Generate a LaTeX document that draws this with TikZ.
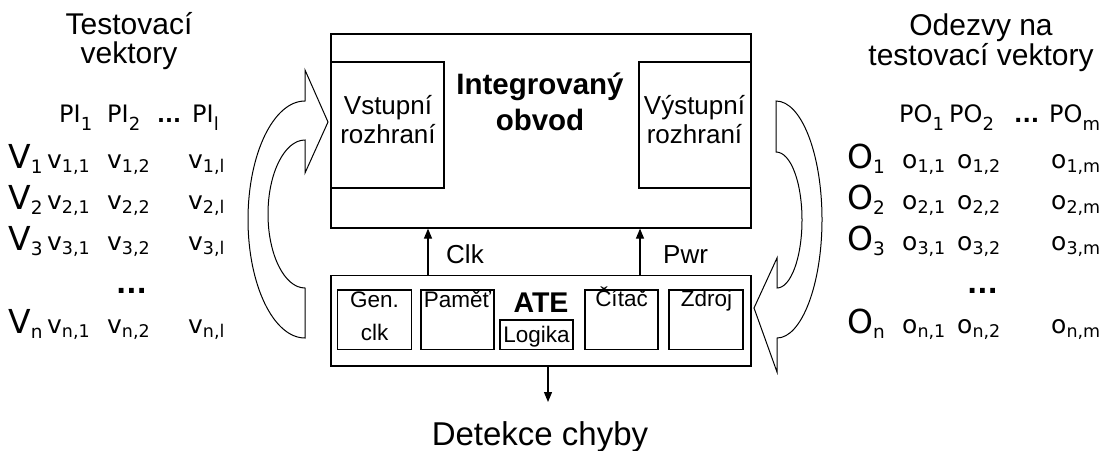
\documentclass[tikz,border=0pt]{standalone}
\usepackage{fontspec}
\setmainfont{Liberation Sans}
\newfontfamily\tabfont{DejaVu Sans}
\usetikzlibrary{arrows.meta}
\newcommand\fsz[1]{\fontsize{#1}{#1}\selectfont}
\newcommand\rowlab[2]{{\fsz{33}#1}\raisebox{-5pt}{\fsz{18.5}#2}}
\newcommand\cellv[2]{{\fsz{25}#1}\raisebox{-4pt}{\fsz{17.5}#2}}
\newcommand\hdr[2]{{\fsz{24}#1}\raisebox{-8pt}{\fsz{18}#2}}
\begin{document}
\begin{tikzpicture}[x=1pt,y=-1pt,
  blk/.style={draw,line width=1.2pt,inner sep=0pt},
  txt/.style={inner sep=0pt,anchor=base},
  tab/.style={inner sep=0pt,anchor=base west,font=\tabfont},
  arr/.style={line width=1.2pt,-{Triangle[length=10pt,width=8pt]}},
  curv/.style={line width=1pt,line join=miter}]
\useasboundingbox (0,0) rectangle (1113,450);

% main blocks
\node[blk,minimum width=420pt,minimum height=194pt] (ic) at (541,131) {};
\node[blk,minimum width=113pt,minimum height=126pt] (vin) at (387.5,125) {};
\node[blk,minimum width=112pt,minimum height=126pt] (vout) at (695,125) {};
\node[blk,minimum width=420pt,minimum height=90.5pt] (ate) at (541,320.75) {};
\node[blk,minimum width=74pt,minimum height=59.5pt] (gen) at (374.5,319.75) {};
\node[blk,minimum width=73pt,minimum height=59.5pt] (pam) at (457.5,319.75) {};
\node[blk,minimum width=73pt,minimum height=29.5pt] (log) at (536.5,334.75) {};
\node[blk,minimum width=73pt,minimum height=59.5pt] (cit) at (621.5,319.75) {};
\node[blk,minimum width=74pt,minimum height=59.5pt] (zdr) at (706,319.75) {};

% texts in blocks
\node[txt,font=\fsz{26}] (vin1) at (388,114) {Vstupní};
\node[txt,font=\fsz{26}] (vin2) at (388,143) {rozhraní};
\node[txt,font=\fsz{26}] (vout1) at (694.5,114) {Výstupní};
\node[txt,font=\fsz{26}] (vout2) at (694.5,143) {rozhraní};
\node[txt,font=\bfseries\fsz{29.5}] (ic1) at (540,94) {Integrovaný};
\node[txt,font=\bfseries\fsz{29.5}] (ic2) at (540,130) {obvod};
\node[txt,font=\bfseries\fsz{28.5}] (atet) at (541,312) {ATE};
\node[txt,font=\fsz{22.5}] (gen1) at (374.5,307.5) {Gen.};
\node[txt,font=\fsz{22.5}] (gen2) at (374.5,340) {clk};
\node[txt,font=\fsz{22.5}] (pamt) at (457.5,307.5) {Paměť};
\node[txt,font=\fsz{22.5}] (logt) at (536.5,342) {Logika};
\node[txt,font=\fsz{22.5}] (citt) at (621.5,306.5) {Čítač};
\node[txt,font=\fsz{22.5}] (zdrt) at (706.5,306.5) {Zdroj};

% connectors
\coordinate (clkx) at (428,0);
\coordinate (pwrx) at (640,0);
\coordinate (detc) at (548,402);
\draw[arr] (ate.north -| clkx) -- (ic.south -| clkx);
\draw[arr] (ate.north -| pwrx) -- (ic.south -| pwrx);
\draw[arr] (ate.south -| detc) -- (detc);
\node[txt,anchor=base west,font=\fsz{26}] (clkl) at (446,263) {Clk};
\node[txt,anchor=base west,font=\fsz{26}] (pwrl) at (663,263) {Pwr};
\node[txt,font=\fsz{33}] (det) at (540,445) {Detekce chyby};

% curved arrows
\draw[curv] (305,101) .. controls (273.5,101) and (248,154.1) .. (248,219.5)
  .. controls (248,284.9) and (273.5,338) .. (305,338) -- (305,288)
  .. controls (284.6,288) and (268,254.9) .. (268,214)
  .. controls (268,173.1) and (284.6,140) .. (305,140)
  -- (305,173) -- (328,122) -- (305,70) -- cycle;
\draw[curv] (776,101) .. controls (801.4,101) and (822,154.1) .. (822,219.5)
  .. controls (822,284.9) and (801.4,338) .. (777,338)
  -- (777,372) -- (754,308) -- (777,258) -- (777,288)
  .. controls (790.8,288) and (802,257.6) .. (802,220)
  .. controls (802,182.4) and (790.8,152) .. (776,152) -- cycle;

% headings
\node[txt,font=\fsz{30}] (tv1) at (129,34) {Testovací};
\node[txt,font=\fsz{30}] (tv2) at (129,63) {vektory};
\node[txt,font=\fsz{30}] (od1) at (981,35) {Odezvy na};
\node[txt,font=\fsz{30}] (od2) at (981,65) {testovací vektory};

% left table
\node[tab] (pi1) at (59,122) {\hdr{PI}{1}};
\node[tab] (pi2) at (107,122) {\hdr{PI}{2}};
\node[tab,font=\tabfont\bfseries\fsz{21}] (pid) at (157,122) {...};
\node[tab] (pil) at (192,122) {\hdr{PI}{l}};
\foreach \r/\y in {1/168,2/209.5,3/250,n/333}{
  \node[tab] (V\r) at (8,\y) {\rowlab{V}{\r}};
  \node[tab] (v\r a) at (47,\y) {\cellv{v}{\r,1}};
  \node[tab] (v\r b) at (107,\y) {\cellv{v}{\r,2}};
  \node[tab] (v\r c) at (188,\y) {\cellv{v}{\r,l}};
}
\node[tab,font=\tabfont\bfseries\fsz{27}] (vdots) at (116,293) {...};

% right table
\node[tab] (po1) at (899,122) {\hdr{PO}{1}};
\node[tab] (po2) at (949,122) {\hdr{PO}{2}};
\node[tab,font=\tabfont\bfseries\fsz{22}] (pod) at (1014,122) {...};
\node[tab] (pom) at (1049,122) {\hdr{PO}{m}};
\foreach \r/\y in {1/168,2/209.5,3/250,n/333}{
  \node[tab] (O\r) at (847,\y) {\rowlab{O}{\r}};
  \node[tab] (o\r a) at (902,\y) {\cellv{o}{\r,1}};
  \node[tab] (o\r b) at (957,\y) {\cellv{o}{\r,2}};
  \node[tab] (o\r c) at (1051,\y) {\cellv{o}{\r,m}};
}
\node[tab,font=\tabfont\bfseries\fsz{27}] (odots) at (967,293) {...};
\end{tikzpicture}
\end{document}
